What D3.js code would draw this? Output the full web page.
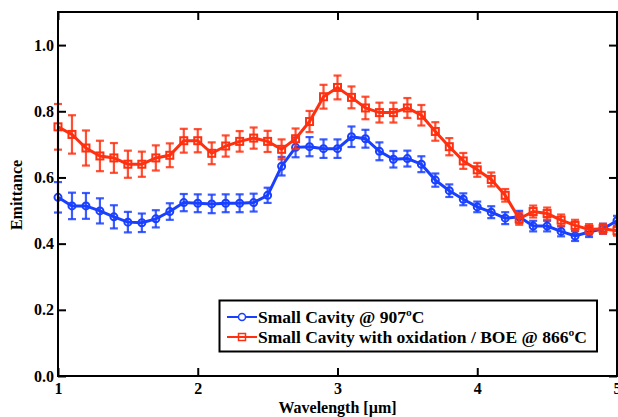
<!DOCTYPE html>
<html>
<head>
<meta charset="utf-8">
<script src="https://cdn.jsdelivr.net/npm/d3@7"></script>
<style>
  body { margin: 0; background: #fff; }
  svg { display: block; }
  text { font-family: "Liberation Serif", "Times New Roman", serif; font-weight: bold; }
</style>
</head>
<body>
<svg id="chart" width="618" height="417"></svg>
<script>
// wavelength in micrometres
var wavelength = [1.0, 1.1, 1.2, 1.3, 1.4, 1.5, 1.6, 1.7, 1.8, 1.9,
                  2.0, 2.1, 2.2, 2.3, 2.4, 2.5, 2.6, 2.7, 2.8, 2.9,
                  3.0, 3.1, 3.2, 3.3, 3.4, 3.5, 3.6, 3.7, 3.8, 3.9,
                  4.0, 4.1, 4.2, 4.3, 4.4, 4.5, 4.6, 4.7, 4.8, 4.9, 5.0];

// Small Cavity @ 907ºC
var cavity907 = [0.540, 0.514, 0.514, 0.499, 0.481, 0.465, 0.463, 0.475, 0.497, 0.524,
                 0.522, 0.520, 0.522, 0.522, 0.524, 0.546, 0.634, 0.691, 0.693, 0.687,
                 0.687, 0.723, 0.717, 0.679, 0.655, 0.657, 0.640, 0.592, 0.560, 0.534,
                 0.511, 0.495, 0.477, 0.481, 0.453, 0.453, 0.437, 0.423, 0.435, 0.445, 0.469];
var cavity907Err = [0.046, 0.040, 0.039, 0.038, 0.035, 0.031, 0.028, 0.026, 0.025, 0.026,
                    0.027, 0.028, 0.027, 0.027, 0.027, 0.023, 0.028, 0.030, 0.029, 0.028,
                    0.028, 0.031, 0.027, 0.027, 0.025, 0.024, 0.024, 0.020, 0.019, 0.018,
                    0.016, 0.018, 0.018, 0.018, 0.016, 0.016, 0.015, 0.015, 0.015, 0.015, 0.015];

// Small Cavity with oxidation / BOE @ 866ºC
var cavityBoe = [0.753, 0.730, 0.689, 0.665, 0.659, 0.640, 0.640, 0.659, 0.667, 0.711,
                 0.711, 0.673, 0.695, 0.709, 0.719, 0.709, 0.685, 0.717, 0.769, 0.844,
                 0.872, 0.842, 0.810, 0.796, 0.796, 0.810, 0.788, 0.739, 0.693, 0.650,
                 0.623, 0.594, 0.546, 0.475, 0.497, 0.491, 0.471, 0.455, 0.443, 0.445, 0.439];
var cavityBoeErr = [0.069, 0.058, 0.053, 0.046, 0.045, 0.041, 0.038, 0.038, 0.036, 0.036,
                    0.035, 0.033, 0.032, 0.031, 0.032, 0.032, 0.030, 0.031, 0.032, 0.036,
                    0.036, 0.033, 0.034, 0.030, 0.030, 0.030, 0.031, 0.028, 0.026, 0.024,
                    0.021, 0.021, 0.019, 0.018, 0.018, 0.018, 0.017, 0.017, 0.016, 0.015, 0.015];

var xTicks = [1, 2, 3, 4, 5];
var yTicks = [0.0, 0.2, 0.4, 0.6, 0.8, 1.0];

var blue = "#1a40ff", red = "#ff3010";

var svg = d3.select("#chart");
// plot box (note: "top" is taken by window.top, so prefix these)
var plotL = 58, plotR = 617, plotT = 12, plotB = 376;

var x = d3.scaleLinear().domain([1, 5]).range([plotL, plotR]);
var y = d3.scaleLinear().domain([0, 1.1]).range([plotB, plotT]);

// axes, ticks pointing inward
var bottomAxis = d3.axisBottom(x).tickValues(xTicks).tickSize(-8).tickPadding(7).tickFormat(d3.format("d"));
var leftAxis = d3.axisLeft(y).tickValues(yTicks).tickSize(-8).tickPadding(4).tickFormat(d3.format(".1f"));
var topAxis = d3.axisTop(x).tickValues(xTicks).tickSize(-8).tickFormat("");
var rightAxis = d3.axisRight(y).tickValues(yTicks).tickSize(-8).tickFormat("");

function styleAxis(g) {
    g.select(".domain").remove();
    g.selectAll(".tick line").attr("stroke", "#000").attr("stroke-width", 2);
    g.selectAll(".tick text").attr("fill", "#000").style("font-size", "16px")
        .style("font-family", "'Liberation Serif', serif").style("font-weight", "bold");
}

svg.append("g").attr("transform", "translate(0," + plotB + ")").call(bottomAxis).call(styleAxis);
svg.append("g").attr("transform", "translate(" + plotL + ",0)").call(leftAxis).call(styleAxis);
svg.append("g").attr("transform", "translate(0," + plotT + ")").call(topAxis).call(styleAxis);
svg.append("g").attr("transform", "translate(" + plotR + ",0)").call(rightAxis).call(styleAxis);

function drawSeries(vals, errs, color, marker) {
    var data = wavelength.map(function(w, i) { return {x: w, y: vals[i], e: errs[i]}; });
    var g = svg.append("g");

    // error bars
    var eb = g.selectAll(".err").data(data).enter().append("g")
        .attr("stroke", color).attr("stroke-opacity", 0.85).attr("stroke-width", 2.2);
    eb.append("line")
        .attr("x1", function(d) { return x(d.x); }).attr("x2", function(d) { return x(d.x); })
        .attr("y1", function(d) { return y(d.y - d.e); }).attr("y2", function(d) { return y(d.y + d.e); });
    eb.append("line")
        .attr("x1", function(d) { return x(d.x) - 4; }).attr("x2", function(d) { return x(d.x) + 4; })
        .attr("y1", function(d) { return y(d.y + d.e); }).attr("y2", function(d) { return y(d.y + d.e); });
    eb.append("line")
        .attr("x1", function(d) { return x(d.x) - 4; }).attr("x2", function(d) { return x(d.x) + 4; })
        .attr("y1", function(d) { return y(d.y - d.e); }).attr("y2", function(d) { return y(d.y - d.e); });

    var line = d3.line().x(function(d) { return x(d.x); }).y(function(d) { return y(d.y); });
    g.append("path").datum(data).attr("d", line)
        .attr("fill", "none").attr("stroke", color).attr("stroke-width", 3);

    if (marker == "circle") {
        g.selectAll("circle").data(data).enter().append("circle")
            .attr("cx", function(d) { return x(d.x); }).attr("cy", function(d) { return y(d.y); })
            .attr("r", 3.5).attr("fill", "none").attr("stroke", color).attr("stroke-width", 2);
    } else {
        g.selectAll("rect").data(data).enter().append("rect")
            .attr("x", function(d) { return x(d.x) - 3.5; }).attr("y", function(d) { return y(d.y) - 3.5; })
            .attr("width", 7).attr("height", 7)
            .attr("fill", "none").attr("stroke", color).attr("stroke-width", 2);
    }
}

drawSeries(cavity907, cavity907Err, blue, "circle");
drawSeries(cavityBoe, cavityBoeErr, red, "square");

// frame
svg.append("rect").attr("x", plotL).attr("y", plotT)
    .attr("width", plotR - plotL).attr("height", plotB - plotT)
    .attr("fill", "none").attr("stroke", "#000").attr("stroke-width", 2);

// axis titles
svg.append("text").attr("x", x(3)).attr("y", 413).attr("text-anchor", "middle")
    .style("font-size", "16px").text("Wavelength [\u00b5m]");
svg.append("text").attr("transform", "translate(22,195) rotate(-90)").attr("text-anchor", "middle")
    .style("font-size", "16px").text("Emittance");

// legend
var legendNames = ["Small Cavity @ 907\u00baC", "Small Cavity with oxidation / BOE @ 866\u00baC"];
var legendColors = [blue, red];
var lg = svg.append("g");
lg.append("rect").attr("x", 219.5).attr("y", 300.5).attr("width", 377.5).attr("height", 51)
    .attr("fill", "#fff").attr("stroke", "#000").attr("stroke-width", 2);
legendNames.forEach(function(name, i) {
    var ly = 317 + i * 20;
    lg.append("line").attr("x1", 227).attr("x2", 257).attr("y1", ly).attr("y2", ly)
        .attr("stroke", legendColors[i]).attr("stroke-width", 2);
    if (i == 0) {
        lg.append("circle").attr("cx", 242).attr("cy", ly).attr("r", 3.5)
            .attr("fill", "#fff").attr("stroke", blue).attr("stroke-width", 1.5);
    } else {
        lg.append("rect").attr("x", 238.5).attr("y", ly - 3.5).attr("width", 7).attr("height", 7)
            .attr("fill", "none").attr("stroke", red).attr("stroke-width", 1.5);
    }
    lg.append("text").attr("x", 258).attr("y", ly).attr("dy", "0.35em")
        .style("font-size", "17.5px").text(name);
});
</script>
</body>
</html>
